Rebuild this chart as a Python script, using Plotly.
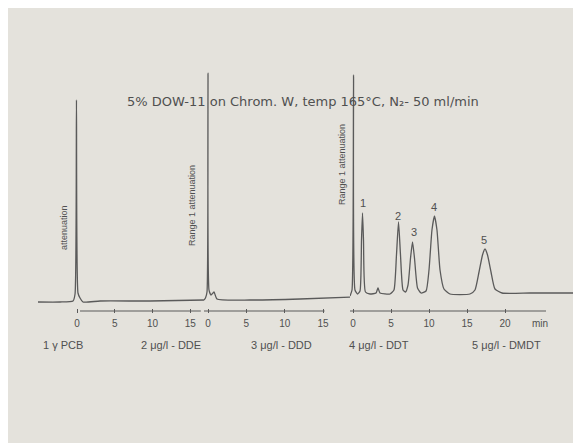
import plotly.graph_objects as go

W, H = 581, 443

# ---------------- data ----------------
# time in minutes on each panel's own axis, signal in chart units (baseline ~ 0)
p1_time = [-5.17, -2.25, -0.53, -0.26, -0.07, 0.13, 0.40, 0.79, 3.05, 9.67, 16.9]
p1_signal = [-3, -3, -2, 5, 199, 6, 1, -3, -2, -2, -1]

p2_time = [-0.52, -0.33, -0.13, 0.0, 0.13, 0.39, 0.78, 1.17, 5.48, 12.0, 18.6]
p2_signal = [-1, 1, 7, 226, 9, 4, 7, 0, -1, 0, 2]

p3_time = [-0.39, -0.13, 0.07, 0.26, 0.59, 0.92, 1.12, 1.25, 1.38, 1.64, 2.24, 3.03,
           3.29, 3.55, 4.87, 5.39, 5.72, 5.99, 6.25, 6.58, 6.91, 7.24, 7.57, 7.83,
           8.09, 8.49, 8.95, 9.61, 10.0, 10.39, 10.72, 11.05, 11.45, 11.97, 12.76,
           15.39, 16.05, 16.58, 17.04, 17.37, 17.70, 18.16, 18.68, 19.61, 23.29, 29.6]
p3_signal = [3, 9, 224, 9, 5, 8, 59, 86, 59, 7, 5, 6,
             11, 6, 5, 9, 44, 77, 44, 9, 7, 14, 41, 57,
             41, 11, 6, 8, 29, 69, 83, 69, 29, 10, 5,
             5, 9, 27, 44, 50, 44, 27, 10, 6, 6, 6]

peak_numbers = ["1", "2", "3", "4", "5"]
peak_times = [1.35, 5.92, 8.02, 10.72, 17.24]
peak_label_signal = [96, 83, 67, 92, 59]

tick_vals_12 = [0, 5, 10, 15]
tick_vals_3 = [0, 5, 10, 15, 20]

title_text = "5% DOW-11 on Chrom. W, temp 165°C, N₂- 50 ml/min"
sample_labels = ["1 γ PCB", "2 μg/l - DDE", "3 μg/l - DDD", "4 μg/l - DDT", "5 μg/l - DMDT"]
vertical_labels = ["attenuation", "Range 1 attenuation", "Range 1 attenuation"]

# ---------------- layout geometry ----------------
LINE = "#5a5a5a"
TEXT = "#505050"
BG = "#e4e2dc"
FONT = "Liberation Sans"
OFF = 8  # page margin around the figure (screen px)

def px(x):
    return (x - OFF) / W

def py(y):
    return 1 - (y - OFF) / H

# (origin screen px, px per minute, domain screen px start, end)
axes_geo = {
    "x": (77, 7.55, 36, 204),
    "x2": (208, 7.67, 204, 350),
    "x3": (353, 7.6, 350, 581),
}

plot_top, plot_bottom = 48, 313   # screen px
y_range = [-14, 251]

fig = go.Figure()
for xa, t, s in [("x", p1_time, p1_signal), ("x2", p2_time, p2_signal), ("x3", p3_time, p3_signal)]:
    fig.add_trace(go.Scatter(x=t, y=s, xaxis=xa, yaxis="y", mode="lines",
                             line=dict(color=LINE, width=1.3, shape="spline", smoothing=0.5),
                             hoverinfo="skip", showlegend=False))

layout_axes = {}
for name, (org, sc, d0, d1) in axes_geo.items():
    key = "xaxis" if name == "x" else "xaxis" + name[1:]
    tv = tick_vals_3 if name == "x3" else tick_vals_12
    layout_axes[key] = dict(
        domain=[px(d0), min(px(d1), 1.0)],
        range=[(d0 - org) / sc, (d1 - org) / sc],
        anchor="y",
        showgrid=False, zeroline=False, showline=False,
        ticks="inside", ticklen=4, tickwidth=1, tickcolor=LINE,
        tickvals=tv, ticktext=[str(v) for v in tv],
        tickfont=dict(family=FONT, size=10, color=TEXT),
        ticklabelstandoff=3,
        fixedrange=True,
    )

fig.update_layout(
    width=W, height=H,
    margin=dict(l=0, r=0, t=0, b=0),
    paper_bgcolor=BG, plot_bgcolor="rgba(0,0,0,0)",
    yaxis=dict(domain=[py(plot_bottom), py(plot_top)], range=y_range, visible=False, fixedrange=True),
    **layout_axes,
)

# axis base lines
shapes = [
    dict(type="line", xref="x", yref="y", x0=0.4, x1=16.4, y0=-12, y1=-12,
         line=dict(color=LINE, width=1.2)),
    dict(type="line", xref="x2", yref="y", x0=-0.52, x1=15.2, y0=-12, y1=-12,
         line=dict(color=LINE, width=1.2)),
    dict(type="line", xref="x3", yref="y", x0=-0.4, x1=25.4, y0=-12, y1=-12,
         line=dict(color=LINE, width=1.2)),
]
fig.update_layout(shapes=shapes)

ann = []
def note(text, x, y, xref="paper", yref="paper", size=10, family=FONT, angle=0):
    ann.append(dict(text=text, x=x, y=y, xref=xref, yref=yref, showarrow=False,
                    xanchor="center", yanchor="middle", textangle=angle,
                    font=dict(family=family, size=size, color=TEXT)))

# title
note(title_text, px(303), py(102), size=13, family="DejaVu Sans")
# 'min' unit label
note("min", (540 - 353) / 7.6, py(323), xref="x3", size=10)
# peak numbers
for n, t, s in zip(peak_numbers, peak_times, peak_label_signal):
    note(n, t, s, xref="x3", yref="y", size=11)
# sample labels under the axes
for lab, xc in zip(sample_labels, [63, 171, 281, 379, 506]):
    note(lab, px(xc), py(345), size=11)
# vertical recorder notes
for lab, xc, yc in zip(vertical_labels, [64, 192, 342], [228, 206, 165]):
    note(lab, px(xc), py(yc), size=9, angle=-90)
fig.update_layout(annotations=ann)

fig.write_html("out.html")
